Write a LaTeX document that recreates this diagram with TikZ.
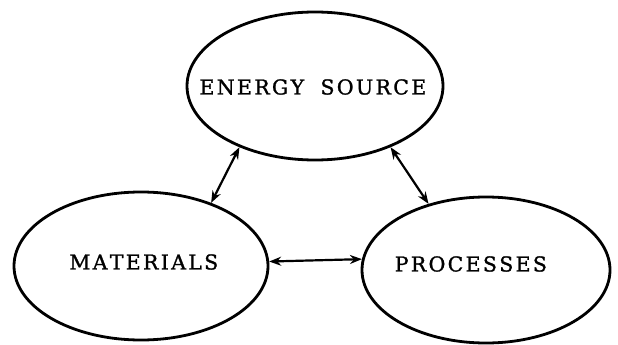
\documentclass[tikz,border=0pt]{standalone}
\usepackage{fontspec}
\newfontfamily\lblfont{DejaVu Serif}[FakeBold=1.2]
\usetikzlibrary{shapes.geometric,arrows.meta}
\newdimen\lspk
\lspk=2.3pt
\newcommand\lsp[1]{\lspA#1\relax}
\def\lspA#1{\ifx#1\relax\else#1\kern\lspk\expandafter\lspA\fi}
\tikzset{
  bubble/.style={draw, ellipse, line width=2.8pt, inner sep=0pt},
  lbl/.style={font=\lblfont\fontsize{20.5}{23}\selectfont, inner sep=0pt},
  link/.style={line width=2.2pt, {Stealth[length=12pt,width=9pt]}-{Stealth[length=12pt,width=9pt]}},
}
\begin{document}
\begin{tikzpicture}[x=1pt,y=-1pt]
\fill[white] (0,0) rectangle (618,345);
\useasboundingbox (0,0) rectangle (618,345);
\node[bubble, minimum width=256pt, minimum height=148pt] (es) at (315,86) {};
\node[bubble, minimum width=254pt, minimum height=148pt] (mat) at (141,266) {};
\node[bubble, minimum width=248pt, minimum height=146pt] (pro) at (486,270) {};
\node[lbl] (tes) at (314,87) {\lsp{ENERGY}\hspace{14pt}\lsp{SOURCE}};
\node[lbl] (tmat) at (145,262) {\lsp{MATERIALS}};
\node[lbl] (tpro) at (472,264) {\lsp{PROCESSES}};
\draw[link] (es.219) -- (mat.42);
\draw[link] (es.321.5) -- (pro.131.9);
\draw[link] (mat.2.7) -- (pro.175.5);
\end{tikzpicture}
\end{document}
